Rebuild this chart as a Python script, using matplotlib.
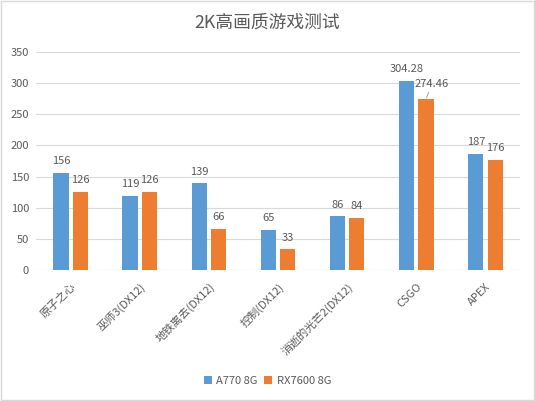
import matplotlib
matplotlib.use("Agg")
import matplotlib.pyplot as plt
import numpy as np

plt.rcParams['font.family'] = ['Noto Sans CJK SC', 'DejaVu Sans']

categories = ['原子之心', '巫师3(DX12)', '地铁离去(DX12)', '控制(DX12)', '消逝的光芒2(DX12)', 'CSGO', 'APEX']
a770 = [156, 119, 139, 65, 86, 304.28, 187]
rx7600 = [126, 126, 66, 33, 84, 274.46, 176]
a770_labels = ['156', '119', '139', '65', '86', '304.28', '187']
rx_labels = ['126', '126', '66', '33', '84', '274.46', '176']
series_names = ['A770 8G', 'RX7600 8G']

blue = '#5B9BD5'
orange = '#ED7D31'
txt = '#595959'

fig = plt.figure(figsize=(5.35, 4.01), dpi=100)
ax = fig.add_axes([0.0673, 0.3267, 0.9047, 0.5433])

x = np.arange(len(categories))
w = 0.22
b1 = ax.bar(x - w/2 - 0.03, a770, w, color=blue, label=series_names[0], zorder=3)
b2 = ax.bar(x + w/2 + 0.03, rx7600, w, color=orange, label=series_names[1], zorder=3)

ax.set_ylim(0, 350)
ax.set_xlim(-0.5, len(categories) - 0.5)
ax.set_yticks(np.arange(0, 351, 50))
ax.yaxis.grid(True, color='#D9D9D9', linewidth=0.8, zorder=0)
for s in ax.spines.values():
    s.set_visible(False)
ax.tick_params(axis='y', length=0, colors=txt, labelsize=8, pad=5)
ax.tick_params(axis='x', length=0, colors=txt, labelsize=8, pad=8)
ax.axhline(0, color='#D9D9D9', linewidth=0.8, zorder=1)

ax.set_xticks(x)
ax.set_xticklabels(categories, rotation=45, ha='right', rotation_mode='anchor', color=txt, fontsize=8)

for rect, lab in zip(b1, a770_labels):
    ax.annotate(lab, (rect.get_x() + rect.get_width()/2, rect.get_height()),
                xytext=(0, 5), textcoords='offset points', ha='center', va='bottom',
                fontsize=8, color=txt)
for rect, lab in zip(b2, rx_labels):
    cx = rect.get_x() + rect.get_width()/2
    if lab == '274.46':
        ax.annotate(lab, (cx, rect.get_height()),
                    xytext=(4, 7), textcoords='offset points', ha='center', va='bottom',
                    fontsize=8, color=txt,
                    arrowprops=dict(arrowstyle='-', color='#A6A6A6', lw=0.7, shrinkA=0, shrinkB=1))
    else:
        ax.annotate(lab, (cx, rect.get_height()),
                    xytext=(0, 5), textcoords='offset points', ha='center', va='bottom',
                    fontsize=8, color=txt)

fig.text(0.5, 0.943, '2K高画质游戏测试', ha='center', va='center', fontsize=12.8, color=txt)

leg = fig.legend(handles=[b1, b2], labels=series_names, loc='center', bbox_to_anchor=(0.5, 0.05),
                 ncol=2, frameon=False, fontsize=8, handlelength=0.7, handleheight=0.7,
                 columnspacing=0.6, handletextpad=0.4)
for t in leg.get_texts():
    t.set_color(txt)

border = plt.Rectangle((0.002, 0.002), 0.996, 0.996, transform=fig.transFigure,
                       fill=False, edgecolor='#D9D9D9', linewidth=1)
fig.patches.append(border)

fig.savefig('out.png', dpi=100, facecolor='white')
